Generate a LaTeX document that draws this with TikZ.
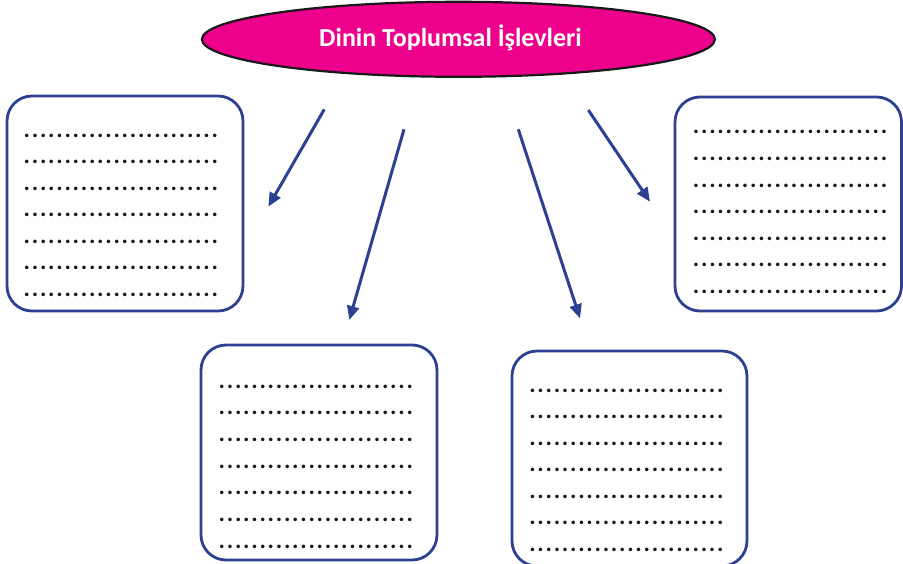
\documentclass[tikz,border=0pt]{standalone}
\usepackage{fontspec}
\setmainfont{Carlito}
\usetikzlibrary{arrows.meta,shapes.geometric}
\definecolor{bluebox}{HTML}{2E4092}
\definecolor{magentafill}{HTML}{EC008C}
\newcommand\dt{\makebox[8.17pt]{.}}
\newcommand\drow{\dt\dt\dt\dt\dt\dt\dt\dt\dt\dt\dt\dt\dt\dt\dt\dt\dt\dt\dt\dt\dt\dt\dt\dt}
\tikzset{
  boxnode/.style={draw=bluebox, line width=2.8pt, rounded corners=25pt, fill=white, inner sep=0pt, outer sep=0pt},
  dotrow/.style={anchor=base west, inner sep=0pt, font=\fontsize{24}{24}\selectfont\bfseries, text=black!90},
  arr/.style={draw=bluebox, line width=3pt, -{Triangle[length=14pt,width=12pt]}},
  titlenode/.style={ellipse, draw=black!90, line width=2.2pt, fill=magentafill, inner sep=0pt, minimum width=513pt, minimum height=75pt}
}
\begin{document}
\begin{tikzpicture}[x=1pt,y=-1pt]
\useasboundingbox (0,0) rectangle (903,563);
\begin{scope}
\clip (0,0) rectangle (903,563);
% title
\node[titlenode] (title) at (458.4,39.3) {};
\node[text=white, font=\fontsize{26}{26}\selectfont\bfseries, anchor=base, inner sep=0pt] (titletext) at (450.5,46.5) {Dinin Toplumsal İşlevleri};
% boxes
\node[boxnode, minimum width=236pt, minimum height=215pt] (b1) at (125,203.5) {};
\node[boxnode, minimum width=236pt, minimum height=215pt] (b2) at (319,452.5) {};
\node[boxnode, minimum width=235pt, minimum height=215pt] (b3) at (629.5,458.5) {};
\node[boxnode, minimum width=226.5pt, minimum height=214pt] (b4) at (788.25,204) {};
% dot rows
\foreach \i in {0,...,6} {
  \node[dotrow] (r1-\i) at (22.6,{135.7+26.5*\i+1.5}) {\drow};
  \node[dotrow] (r2-\i) at (217.6,{386.7+26.67*\i+1.5}) {\drow};
  \node[dotrow] (r3-\i) at (528.2,{390.7+26.55*\i+1.5}) {\drow};
  \node[dotrow] (r4-\i) at (691.9,{132.3+26.6*\i+1.5}) {\drow};
}
% arrows
\coordinate (a1s) at (324.3,109.3);
\coordinate (a1e) at (268.3,206.7);
\coordinate (a2s) at (404,129.3);
\coordinate (a2e) at (349.3,320);
\coordinate (a3s) at (518.3,129.3);
\coordinate (a3e) at (580,318.3);
\coordinate (a4s) at (588.3,110);
\coordinate (a4e) at (650,201.7);
\draw[arr] (a1s) -- (a1e);
\draw[arr] (a2s) -- (a2e);
\draw[arr] (a3s) -- (a3e);
\draw[arr] (a4s) -- (a4e);
\end{scope}
\end{tikzpicture}
\end{document}
